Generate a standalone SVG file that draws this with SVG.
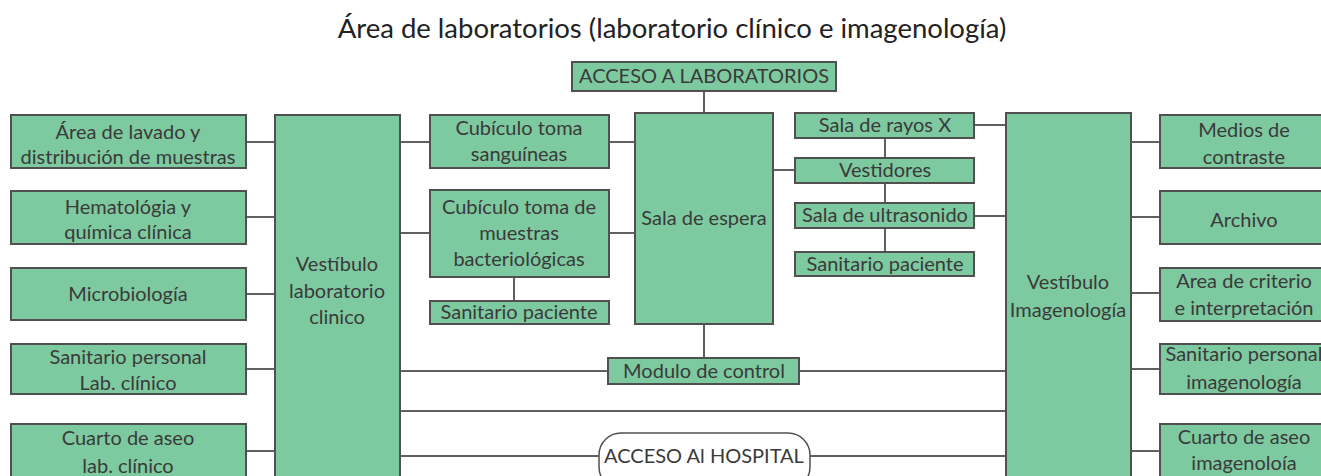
<svg xmlns="http://www.w3.org/2000/svg" width="1321" height="476" viewBox="0 0 1321 476">
<style>
.b{fill:#7dc9a0;stroke:#505050;stroke-width:2}
.t{font-family:Lato,"Liberation Sans",sans-serif;font-size:20px;fill:#3a3a3a;text-anchor:middle}
.c line{stroke:#606060;stroke-width:2}
.title{font-family:Lato,"Liberation Sans",sans-serif;font-size:27.5px;fill:#222;text-anchor:middle}
</style>
<rect width="1321" height="476" fill="#fff"/>
<text class="title" x="672" y="38">Área de laboratorios (laboratorio clínico e imagenología)</text>
<g class="c" id="connectors">
<line x1="246" y1="142" x2="275" y2="142"/>
<line x1="246" y1="217" x2="275" y2="217"/>
<line x1="246" y1="294" x2="275" y2="294"/>
<line x1="246" y1="369" x2="275" y2="369"/>
<line x1="246" y1="451" x2="275" y2="451"/>
<line x1="400" y1="142" x2="430" y2="142"/>
<line x1="609" y1="142" x2="635" y2="142"/>
<line x1="400" y1="233" x2="430" y2="233"/>
<line x1="609" y1="233" x2="635" y2="233"/>
<line x1="514" y1="277" x2="514" y2="301"/>
<line x1="704" y1="91" x2="704" y2="113"/>
<line x1="704" y1="324" x2="704" y2="358"/>
<line x1="400" y1="371" x2="608" y2="371"/>
<line x1="799" y1="371" x2="1006" y2="371"/>
<line x1="400" y1="411" x2="1006" y2="411"/>
<line x1="400" y1="456" x2="599" y2="456"/>
<line x1="810" y1="456" x2="1006" y2="456"/>
<line x1="773" y1="170" x2="795" y2="170"/>
<line x1="885" y1="138" x2="885" y2="158"/>
<line x1="885" y1="183" x2="885" y2="203"/>
<line x1="885" y1="228" x2="885" y2="252"/>
<line x1="974" y1="125" x2="1006" y2="125"/>
<line x1="974" y1="216" x2="1006" y2="216"/>
<line x1="1131" y1="142" x2="1160" y2="142"/>
<line x1="1131" y1="217" x2="1160" y2="217"/>
<line x1="1131" y1="293" x2="1160" y2="293"/>
<line x1="1131" y1="369" x2="1160" y2="369"/>
<line x1="1131" y1="451" x2="1160" y2="451"/>
</g>
<g id="lavado"><rect class="b" x="11" y="115" width="235" height="53"/><text class="t" x="128" y="139">Área de lavado y</text><text class="t" x="128" y="164">distribución de muestras</text></g>
<g id="hematologia"><rect class="b" x="11" y="191" width="235" height="53"/><text class="t" x="128" y="214">Hematológia y</text><text class="t" x="128" y="239">química clínica</text></g>
<g id="microbiologia"><rect class="b" x="11" y="268" width="235" height="52"/><text class="t" x="128" y="301">Microbiología</text></g>
<g id="sanitario-lab"><rect class="b" x="11" y="344" width="235" height="50"/><text class="t" x="128" y="364">Sanitario personal</text><text class="t" x="128" y="390">Lab. clínico</text></g>
<g id="aseo-lab"><rect class="b" x="11" y="424" width="235" height="60"/><text class="t" x="128" y="445">Cuarto de aseo</text><text class="t" x="128" y="473">lab. clínico</text></g>
<g id="vestibulo-lab"><rect class="b" x="275" y="115" width="125" height="370"/><text class="t" x="337" y="271">Vestíbulo</text><text class="t" x="337" y="298">laboratorio</text><text class="t" x="337" y="324">clinico</text></g>
<g id="sanguineas"><rect class="b" x="430" y="115" width="179" height="53"/><text class="t" x="519" y="135">Cubículo toma</text><text class="t" x="519" y="161">sanguíneas</text></g>
<g id="bacteriologicas"><rect class="b" x="430" y="190" width="179" height="87"/><text class="t" x="519" y="214">Cubículo toma de</text><text class="t" x="519" y="240">muestras</text><text class="t" x="519" y="266">bacteriológicas</text></g>
<g id="sanitario-paciente-1"><rect class="b" x="430" y="301" width="179" height="23"/><text class="t" x="519" y="319">Sanitario paciente</text></g>
<g id="acceso-lab"><rect class="b" x="572" y="62" width="264" height="29"/><text class="t" x="704" y="83">ACCESO A LABORATORIOS</text></g>
<g id="sala-espera"><rect class="b" x="635" y="113" width="138" height="211"/><text class="t" x="704" y="225">Sala de espera</text></g>
<g id="modulo"><rect class="b" x="608" y="358" width="191" height="26"/><text class="t" x="704" y="378">Modulo de control</text></g>
<g id="acceso-hospital"><rect x="599" y="433" width="211" height="56" rx="22" fill="#fff" stroke="#505050" stroke-width="1.5"/><text class="t" x="704" y="463">ACCESO Al HOSPITAL</text></g>
<g id="rayos"><rect class="b" x="795" y="113" width="179" height="25"/><text class="t" x="885" y="132">Sala de rayos X</text></g>
<g id="vestidores"><rect class="b" x="795" y="158" width="179" height="25"/><text class="t" x="885" y="177">Vestidores</text></g>
<g id="ultrasonido"><rect class="b" x="795" y="203" width="179" height="25"/><text class="t" x="885" y="222">Sala de ultrasonido</text></g>
<g id="sanitario-paciente-2"><rect class="b" x="795" y="252" width="179" height="24"/><text class="t" x="885" y="271">Sanitario paciente</text></g>
<g id="vestibulo-imag"><rect class="b" x="1006" y="113" width="125" height="372"/><text class="t" x="1068" y="289">Vestíbulo</text><text class="t" x="1068" y="317">Imagenología</text></g>
<g id="medios"><rect class="b" x="1160" y="115" width="175" height="53"/><text class="t" x="1244" y="137">Medios de</text><text class="t" x="1244" y="164">contraste</text></g>
<g id="archivo"><rect class="b" x="1160" y="191" width="175" height="53"/><text class="t" x="1244" y="227">Archivo</text></g>
<g id="criterio"><rect class="b" x="1160" y="268" width="175" height="53"/><text class="t" x="1244" y="288">Area de criterio</text><text class="t" x="1244" y="315">e interpretación</text></g>
<g id="sanitario-imag"><rect class="b" x="1160" y="344" width="175" height="50"/><text class="t" x="1244" y="361">Sanitario personal</text><text class="t" x="1244" y="389">imagenología</text></g>
<g id="aseo-imag"><rect class="b" x="1160" y="424" width="175" height="60"/><text class="t" x="1244" y="444">Cuarto de aseo</text><text class="t" x="1244" y="470">imagenoloía</text></g>
</svg>
